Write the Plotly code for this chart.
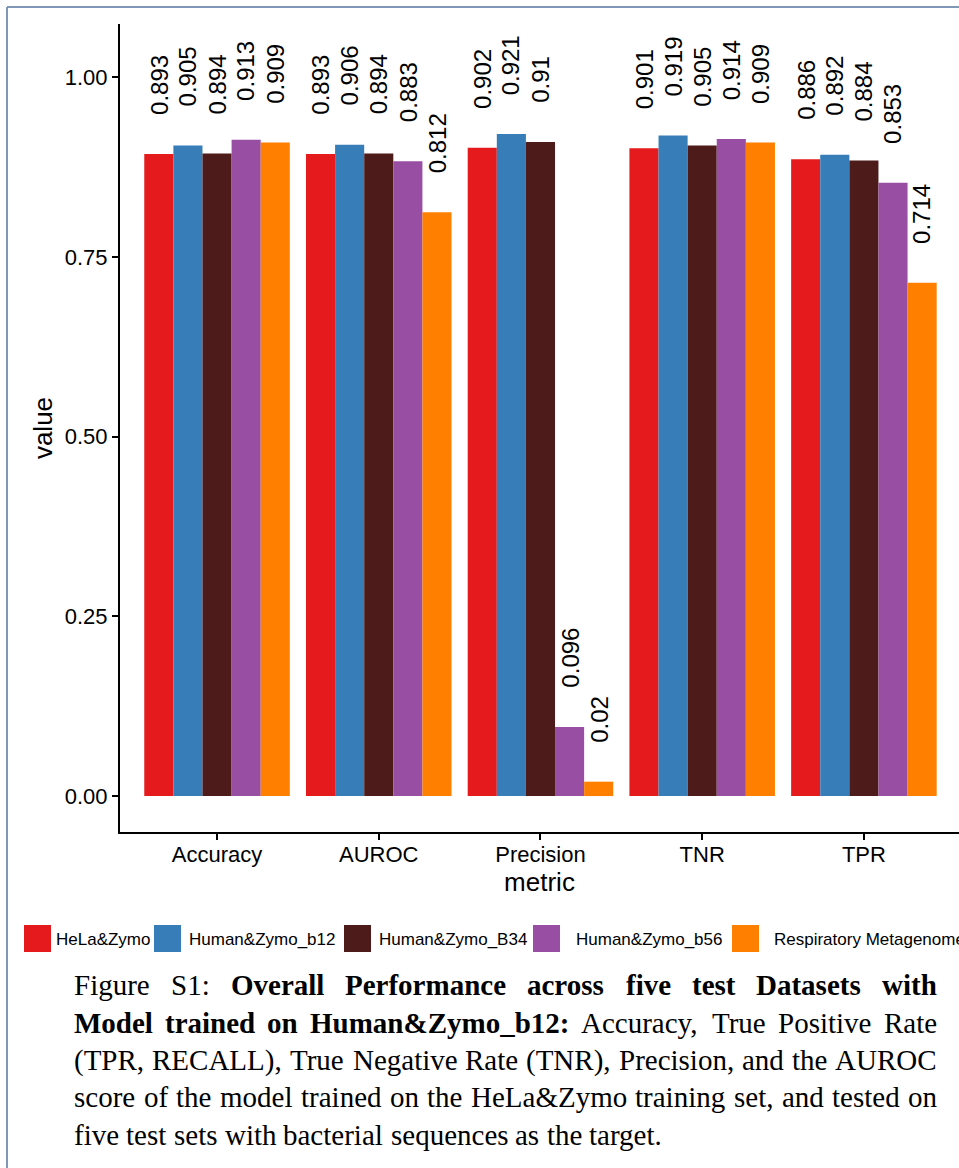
import plotly.graph_objects as go

# ---------------- data ----------------
metrics = ["Accuracy", "AUROC", "Precision", "TNR", "TPR"]
datasets = ["HeLa&Zymo", "Human&Zymo_b12", "Human&Zymo_B34", "Human&Zymo_b56", "Respiratory Metagenome"]
hela_zymo = [0.893, 0.893, 0.902, 0.901, 0.886]
human_zymo_b12 = [0.905, 0.906, 0.921, 0.919, 0.892]
human_zymo_b34 = [0.894, 0.894, 0.91, 0.905, 0.884]
human_zymo_b56 = [0.913, 0.883, 0.096, 0.914, 0.853]
respiratory = [0.909, 0.812, 0.02, 0.909, 0.714]
series_values = [hela_zymo, human_zymo_b12, human_zymo_b34, human_zymo_b56, respiratory]
y_tick_vals = [0, 0.25, 0.5, 0.75, 1.0]
y_tick_text = ["0.00", "0.25", "0.50", "0.75", "1.00"]

colors = ["#E41A1C", "#377EB8", "#4D1C1A", "#984EA3", "#FF7F00"]

# ---------------- layout geometry ----------------
W, H = 959, 1168
ML, MR, MT, MB = 120, 0, 24, 336
PW, PH = W - ML - MR, H - MT - MB
X_RANGE = [-0.6, 4.588]
Y_RANGE = [-0.05, 1.074]
cat_px = PW / (X_RANGE[1] - X_RANGE[0])
bar_px = cat_px * 0.9 / len(datasets)


def px_x(px):
    return (px - ML) / PW


def px_y(py):
    return (H - MB - py) / PH


SANS = "Liberation Sans, Arial, Helvetica, sans-serif"
SERIF = "Liberation Serif, Times New Roman, serif"

fig = go.Figure()
for name, vals, col in zip(datasets, series_values, colors):
    fig.add_trace(go.Bar(x=metrics, y=vals, name=name, marker_color=col,
                         marker_line_width=0, showlegend=False, hoverinfo="skip"))

annotations = []
n = len(datasets)
for i, vals in enumerate(series_values):
    for j, v in enumerate(vals):
        annotations.append(dict(
            x=metrics[j], y=v, xref="x", yref="y",
            xshift=(i - (n - 1) / 2) * bar_px, yshift=38,
            text=f"{v:g}", textangle=-90, showarrow=False,
            xanchor="center", yanchor="bottom", borderpad=0,
            font=dict(family=SANS, size=24, color="black")))

# ---------------- manual legend ----------------
legend_square_px = [24, 154, 344, 533, 732]
legend_text_px = [55, 188, 378, 575, 773]
legend_cy = 938.5
sq = 27
shapes = []
for name, col, sx, tx in zip(datasets, colors, legend_square_px, legend_text_px):
    shapes.append(dict(type="rect", xref="paper", yref="paper",
                       x0=px_x(sx), x1=px_x(sx + sq),
                       y0=px_y(legend_cy + sq / 2), y1=px_y(legend_cy - sq / 2),
                       fillcolor=col, line=dict(width=0)))
    annotations.append(dict(x=px_x(tx), y=px_y(legend_cy + 1), xref="paper", yref="paper",
                            text=name, showarrow=False, xanchor="left", yanchor="middle",
                            borderpad=0, font=dict(family=SANS, size=17, color="black")))

# ---------------- frame ----------------
frame_col = "#8098B8"
shapes.append(dict(type="line", xref="paper", yref="paper", x0=px_x(7), x1=px_x(7),
                   y0=px_y(7), y1=px_y(H + 20), line=dict(color=frame_col, width=2)))
shapes.append(dict(type="line", xref="paper", yref="paper", x0=px_x(7), x1=px_x(W + 20),
                   y0=px_y(7), y1=px_y(7), line=dict(color=frame_col, width=2)))

# ---------------- caption (justified) ----------------
TR = {' ': 250, '&': 778, '(': 333, ')': 333, ',': 250, '.': 250, ':': 278, '_': 500,
      'A': 722, 'B': 667, 'C': 667, 'D': 722, 'E': 611, 'F': 556, 'G': 722, 'H': 722, 'I': 333,
      'J': 389, 'K': 722, 'L': 611, 'M': 889, 'N': 722, 'O': 722, 'P': 556, 'Q': 722, 'R': 667,
      'S': 556, 'T': 611, 'U': 722, 'V': 722, 'W': 944, 'X': 722, 'Y': 722, 'Z': 611,
      'a': 444, 'b': 500, 'c': 444, 'd': 500, 'e': 444, 'f': 333, 'g': 500, 'h': 500, 'i': 278,
      'j': 278, 'k': 500, 'l': 278, 'm': 778, 'n': 500, 'o': 500, 'p': 500, 'q': 500, 'r': 333,
      's': 389, 't': 278, 'u': 500, 'v': 500, 'w': 722, 'x': 500, 'y': 500, 'z': 444}
TB = {' ': 250, '&': 833, '(': 333, ')': 333, ',': 250, '.': 250, ':': 333, '_': 500,
      'A': 722, 'B': 667, 'C': 722, 'D': 722, 'E': 667, 'F': 611, 'G': 778, 'H': 778, 'I': 389,
      'J': 500, 'K': 778, 'L': 667, 'M': 944, 'N': 722, 'O': 778, 'P': 611, 'Q': 778, 'R': 722,
      'S': 556, 'T': 667, 'U': 722, 'V': 722, 'W': 1000, 'X': 722, 'Y': 722, 'Z': 667,
      'a': 500, 'b': 556, 'c': 444, 'd': 556, 'e': 444, 'f': 333, 'g': 500, 'h': 556, 'i': 278,
      'j': 333, 'k': 556, 'l': 278, 'm': 833, 'n': 556, 'o': 500, 'p': 556, 'q': 556, 'r': 444,
      's': 389, 't': 333, 'u': 556, 'v': 500, 'w': 722, 'x': 500, 'y': 500, 'z': 444}
for d in range(10):
    TR[str(d)] = 500
    TB[str(d)] = 500

CAP_SIZE = 29
CAP_LEFT, CAP_RIGHT = 73, 936
cap_baselines = [995, 1033, 1070, 1107, 1145]


def wwidth(word, bold):
    t = TB if bold else TR
    return sum(t.get(c, 500) for c in word) / 1000 * CAP_SIZE


cap_lines = [
    [("Figure", 0), ("S1:", 0), ("Overall", 1), ("Performance", 1), ("across", 1), ("five", 1),
     ("test", 1), ("Datasets", 1), ("with", 1)],
    [("Model", 1), ("trained", 1), ("on", 1), ("Human&Zymo_b12:", 1), ("Accuracy,", 0),
     ("True", 0), ("Positive", 0), ("Rate", 0)],
    [("(TPR,", 0), ("RECALL),", 0), ("True", 0), ("Negative", 0), ("Rate", 0), ("(TNR),", 0),
     ("Precision,", 0), ("and", 0), ("the", 0), ("AUROC", 0)],
    [("score", 0), ("of", 0), ("the", 0), ("model", 0), ("trained", 0), ("on", 0), ("the", 0),
     ("HeLa&Zymo", 0), ("training", 0), ("set,", 0), ("and", 0), ("tested", 0), ("on", 0)],
    [("five", 0), ("test", 0), ("sets", 0), ("with", 0), ("bacterial", 0), ("sequences", 0),
     ("as", 0), ("the", 0), ("target.", 0)],
]

for li, (line, base) in enumerate(zip(cap_lines, cap_baselines)):
    widths = [wwidth(w, b) for w, b in line]
    if li < len(cap_lines) - 1:
        gap = (CAP_RIGHT - CAP_LEFT - sum(widths)) / (len(line) - 1)
    else:
        gap = 0.25 * CAP_SIZE
    x = CAP_LEFT
    for (w, b), wd in zip(line, widths):
        annotations.append(dict(x=px_x(x), y=px_y(base - 10), xref="paper", yref="paper",
                                text=f"<b>{w}</b>" if b else w, showarrow=False,
                                xanchor="left", yanchor="middle", borderpad=0,
                                font=dict(family=SERIF, size=CAP_SIZE, color="black")))
        x += wd + gap

fig.update_layout(
    width=W, height=H,
    margin=dict(l=ML, r=MR, t=MT, b=MB, pad=0),
    paper_bgcolor="white", plot_bgcolor="white",
    barmode="group", bargap=0.1, bargroupgap=0,
    showlegend=False,
    font=dict(family=SANS, color="black"),
    annotations=annotations, shapes=shapes,
    xaxis=dict(type="category", categoryorder="array", categoryarray=metrics,
               range=X_RANGE, showline=True, linecolor="black", linewidth=2,
               ticks="outside", ticklen=6, tickwidth=2, tickcolor="black",
               showgrid=False, zeroline=False, ticklabelstandoff=-4,
               tickfont=dict(family=SANS, size=22, color="black"),
               title=dict(text="metric", font=dict(family=SANS, size=26, color="black"), standoff=4)),
    yaxis=dict(range=Y_RANGE, tickvals=y_tick_vals, ticktext=y_tick_text,
               showline=True, linecolor="black", linewidth=2,
               ticks="outside", ticklen=6, tickwidth=2, tickcolor="black",
               showgrid=False, zeroline=False,
               tickfont=dict(family=SANS, size=22, color="black"),
               title=dict(text="value", font=dict(family=SANS, size=26, color="black"), standoff=5)),
)

fig.write_html("out.html", config={"displayModeBar": False},
               post_script="document.body.style.margin='0';document.body.style.overflow='hidden';")
